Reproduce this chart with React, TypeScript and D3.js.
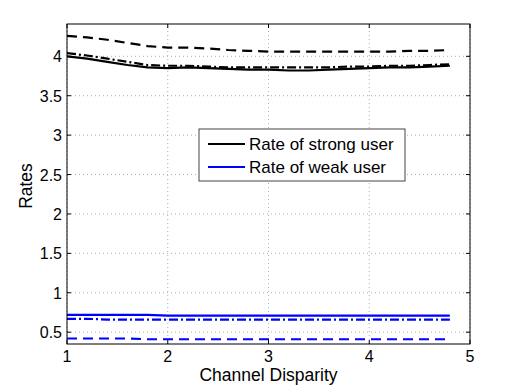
import React from 'react'
import * as d3 from 'd3'

const disparity = [1, 1.2, 1.4, 1.6, 1.8, 2, 2.2, 2.4, 2.6, 2.8, 3, 3.2, 3.4, 3.6, 3.8, 4, 4.2, 4.4, 4.6, 4.8]
const strongSolid = [4.0, 3.97, 3.93, 3.89, 3.86, 3.85, 3.86, 3.85, 3.84, 3.83, 3.83, 3.82, 3.82, 3.83, 3.84, 3.85, 3.86, 3.86, 3.87, 3.88]
const strongDashDot = [4.04, 4.01, 3.97, 3.93, 3.89, 3.88, 3.88, 3.87, 3.86, 3.86, 3.86, 3.86, 3.86, 3.86, 3.87, 3.87, 3.88, 3.88, 3.89, 3.90]
const strongDashed = [4.26, 4.24, 4.21, 4.17, 4.13, 4.11, 4.11, 4.10, 4.08, 4.07, 4.06, 4.06, 4.06, 4.06, 4.06, 4.06, 4.06, 4.07, 4.07, 4.08]
const weakSolid = [0.72, 0.72, 0.72, 0.72, 0.72, 0.71, 0.71, 0.71, 0.71, 0.71, 0.71, 0.71, 0.71, 0.71, 0.71, 0.71, 0.71, 0.71, 0.71, 0.71]
const weakDashDot = [0.67, 0.67, 0.66, 0.66, 0.66, 0.66, 0.66, 0.66, 0.66, 0.66, 0.66, 0.66, 0.66, 0.66, 0.66, 0.66, 0.66, 0.66, 0.66, 0.66]
const weakDashed = [0.42, 0.42, 0.42, 0.42, 0.41, 0.41, 0.41, 0.41, 0.41, 0.41, 0.41, 0.41, 0.41, 0.41, 0.41, 0.41, 0.41, 0.41, 0.41, 0.41]
const xTicks = [1, 2, 3, 4, 5]
const yTicks = [0.5, 1, 1.5, 2, 2.5, 3, 3.5, 4]
const legendLabels = ['Rate of strong user', 'Rate of weak user']

const width = 519
const height = 391
const margin = { top: 24, right: 49, bottom: 47, left: 67 }
const font = 'Liberation Sans, Arial, Helvetica, sans-serif'

export default function App() {
  const x = d3.scaleLinear().domain([1, 5]).range([margin.left, width - margin.right])
  const y = d3.scaleLinear().domain([0.35, 4.41]).range([height - margin.bottom, margin.top])
  const line = d3.line<number>().x((_, i) => x(disparity[i])).y(d => y(d))

  const series = [
    { values: strongDashed, color: '#000', dash: '10,6' },
    { values: strongDashDot, color: '#000', dash: '9,3,2,3' },
    { values: strongSolid, color: '#000', dash: null },
    { values: weakSolid, color: '#0000ff', dash: null },
    { values: weakDashDot, color: '#0000ff', dash: '9,3,2,3' },
    { values: weakDashed, color: '#0000ff', dash: '10,6' },
  ]

  const x0 = margin.left, x1 = width - margin.right
  const y0 = height - margin.bottom, y1 = margin.top
  const tl = 4

  return (
    <svg width={width} height={height} style={{ position: 'absolute', left: 0, top: 0, background: '#fff' }}>
      <rect x={0} y={0} width={width} height={height} fill="#fff" />
      {/* grid */}
      {xTicks.map(t => (
        <line key={'gx' + t} x1={x(t)} x2={x(t)} y1={y0} y2={y1} stroke="#999" strokeWidth={0.8} strokeDasharray="1,3" />
      ))}
      {yTicks.map(t => (
        <line key={'gy' + t} x1={x0} x2={x1} y1={y(t)} y2={y(t)} stroke="#999" strokeWidth={0.8} strokeDasharray="1,3" />
      ))}
      {/* series */}
      {series.map((s, i) => (
        <path key={i} d={line(s.values) || ''} fill="none" stroke={s.color} strokeWidth={2.2}
          strokeDasharray={s.dash || undefined} />
      ))}
      {/* box and ticks */}
      <rect x={x0} y={y1} width={x1 - x0} height={y0 - y1} fill="none" stroke="#000" strokeWidth={1} />
      {xTicks.map(t => (
        <g key={'tx' + t}>
          <line x1={x(t)} x2={x(t)} y1={y0} y2={y0 - tl} stroke="#000" />
          <line x1={x(t)} x2={x(t)} y1={y1} y2={y1 + tl} stroke="#000" />
          <text x={x(t)} y={y0 + 18} textAnchor="middle" fontFamily={font} fontSize={16}>{t}</text>
        </g>
      ))}
      {yTicks.map(t => (
        <g key={'ty' + t}>
          <line x1={x0} x2={x0 + tl} y1={y(t)} y2={y(t)} stroke="#000" />
          <line x1={x1} x2={x1 - tl} y1={y(t)} y2={y(t)} stroke="#000" />
          <text x={x0 - 5} y={y(t) + 6} textAnchor="end" fontFamily={font} fontSize={16}>{t}</text>
        </g>
      ))}
      <text x={(x0 + x1) / 2} y={y0 + 37} textAnchor="middle" fontFamily={font} fontSize={17.5}>Channel Disparity</text>
      <text transform={`translate(${32},${(y0 + y1) / 2 + 2}) rotate(-90)`} textAnchor="middle" fontFamily={font} fontSize={17.5}>Rates</text>
      {/* legend */}
      <g>
        <rect x={199} y={129} width={206} height={52} fill="#fff" stroke="#444" strokeWidth={1} />
        {legendLabels.map((l, i) => (
          <g key={l}>
            <line x1={208} x2={245} y1={144 + i * 23} y2={144 + i * 23} stroke={i === 0 ? '#000' : '#0000ff'} strokeWidth={2.2} />
            <text x={249} y={150 + i * 23} fontFamily={font} fontSize={17}>{l}</text>
          </g>
        ))}
      </g>
    </svg>
  )
}
